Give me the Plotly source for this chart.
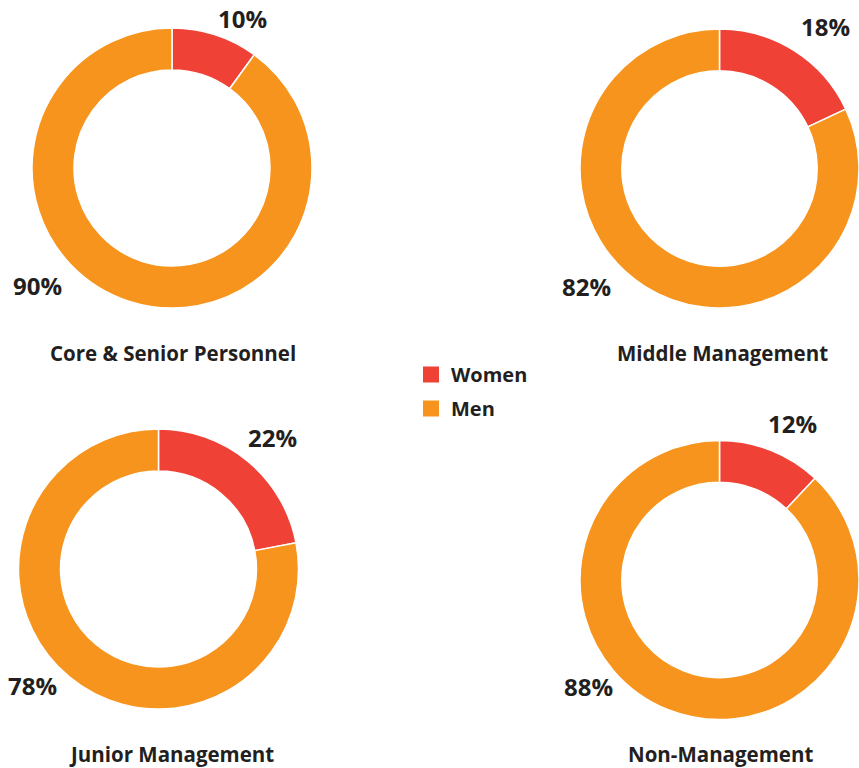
import plotly.graph_objects as go

# Gender split by staff level (percent)
groups = ["Core & Senior Personnel", "Middle Management", "Junior Management", "Non-Management"]
series_labels = ["Women", "Men"]
women = [10, 18, 22, 12]
men = [90, 82, 78, 88]

colors = ["#EF4136", "#F7941D"]
text_color = "#231F20"
font_family = "Open Sans, Noto Sans, sans-serif"

W, H = 859, 768
R = 140  # donut outer radius in px

# donut centres (px, from top-left)
centers = [(172, 168), (720, 168.5), (158.5, 569), (720, 580)]
# percent label offsets from centre (women, men)
label_offsets = [
    ((70, -150), (-135, 118)),
    ((105, -142), (-134, 118)),
    ((113.5, -132), (-126.5, 116)),
    ((72, -157), (-132, 106)),
]
# group title positions
title_pos = [(172.5, 353), (722.5, 353), (171.5, 754), (720, 754)]


def px_x(x):
    return x / W


def px_y(y):
    return 1 - y / H


fig = go.Figure()
annotations = []

for i, name in enumerate(groups):
    cx, cy = centers[i]
    x0, x1 = max(0, (cx - R) / W), min(1, (cx + R) / W)
    y0, y1 = max(0, 1 - (cy + R) / H), min(1, 1 - (cy - R) / H)
    vals = [women[i], men[i]]
    fig.add_trace(go.Pie(
        labels=series_labels,
        values=vals,
        name=name,
        hole=0.70,
        sort=False,
        direction="clockwise",
        rotation=0,
        textinfo="none",
        hoverinfo="label+percent",
        marker=dict(colors=colors, line=dict(color="white", width=1.5)),
        domain=dict(x=[x0, x1], y=[y0, y1]),
        showlegend=False,
    ))
    for v, (dx, dy) in zip(vals, label_offsets[i]):
        annotations.append(dict(
            x=px_x(cx + dx), y=px_y(cy + dy), xref="paper", yref="paper",
            text=f"{v}%", showarrow=False, xanchor="center", yanchor="middle",
            font=dict(family=font_family, size=24, color=text_color, weight=700),
        ))
    tx, ty = title_pos[i]
    annotations.append(dict(
        x=px_x(tx), y=px_y(ty), xref="paper", yref="paper",
        text=name, showarrow=False, xanchor="center", yanchor="middle",
        font=dict(family=font_family, size=20.5, color=text_color, weight=700),
    ))

# legend entries with square swatches
for lab, col in zip(series_labels, colors):
    fig.add_trace(go.Scatter(
        x=[None], y=[None], mode="markers", name=lab, legendgroup=lab,
        marker=dict(symbol="square", size=19, color=col),
        showlegend=True, hoverinfo="skip",
    ))

fig.update_layout(
    width=W, height=H,
    margin=dict(l=0, r=0, t=0, b=0),
    paper_bgcolor="white",
    plot_bgcolor="white",
    xaxis=dict(visible=False),
    yaxis=dict(visible=False),
    annotations=annotations,
    legend=dict(
        x=px_x(411), y=px_y(355), xanchor="left", yanchor="top",
        font=dict(family=font_family, size=20, color=text_color, weight=700),
        bgcolor="rgba(0,0,0,0)",
        traceorder="grouped",
        tracegroupgap=5,
    ),
)

fig.write_html("out.html")
